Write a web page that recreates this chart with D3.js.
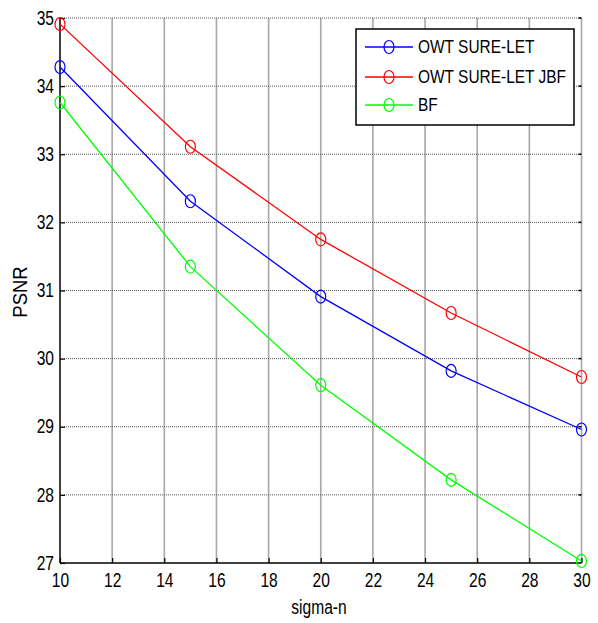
<!DOCTYPE html>
<html>
<head>
<meta charset="utf-8">
<script src="https://cdn.jsdelivr.net/npm/d3@7/dist/d3.min.js"></script>
<style>
  html, body { margin: 0; padding: 0; background: #fff; }
  svg text { font-family: "Liberation Sans", Arial, sans-serif; fill: #000; }
</style>
</head>
<body>
<svg id="chart" width="598" height="623"></svg>
<script>
const sigma = [10, 15, 20, 25, 30];
const owtSureLet = [34.28, 32.31, 30.91, 29.82, 28.96];
const owtSureLetJbf = [34.91, 33.11, 31.75, 30.67, 29.73];
const bf = [33.76, 31.35, 29.61, 28.22, 27.03];
const xTicks = [10, 12, 14, 16, 18, 20, 22, 24, 26, 28, 30];
const yTicks = [27, 28, 29, 30, 31, 32, 33, 34, 35];
const seriesNames = ["OWT SURE-LET", "OWT SURE-LET JBF", "BF"];
const seriesColors = ["#0000ff", "#ff0000", "#00ff00"];

const series = [owtSureLet, owtSureLetJbf, bf].map((vals, i) => ({
  name: seriesNames[i], color: seriesColors[i],
  points: sigma.map((s, j) => ({ x: s, y: vals[j] }))
}));

const svg = d3.select("#chart");
const L = 60, R = 581.5, T = 18, B = 563;
const x = d3.scaleLinear().domain([10, 30]).range([L, R]);
const y = d3.scaleLinear().domain([27, 35]).range([B, T]);
const TS = 0.8; // horizontal condensation of the text

// grid
const g = svg.append("g");
g.selectAll(".vg").data(xTicks.slice(1)).enter().append("line")
  .attr("x1", d => x(d)).attr("x2", d => x(d)).attr("y1", T).attr("y2", B)
  .attr("stroke", "#a8a8a8").attr("stroke-width", 1.6);
g.selectAll(".hg").data(yTicks.slice(1)).enter().append("line")
  .attr("x1", L).attr("x2", R).attr("y1", d => y(d)).attr("y2", d => y(d))
  .attr("stroke", "#555").attr("stroke-width", 1).attr("stroke-dasharray", "1,1");

// axes
const yAxis = d3.axisLeft(y).tickValues(yTicks).tickSize(-5).tickPadding(6).tickFormat(d3.format("d"));
const xAxis = d3.axisBottom(x).tickValues(xTicks).tickSize(-5).tickPadding(9).tickFormat(d3.format("d"));
const ya = svg.append("g").attr("transform", `translate(${L},0)`).call(yAxis);
const xa = svg.append("g").attr("transform", `translate(0,${B})`).call(xAxis);
[ya, xa].forEach(a => {
  a.select(".domain").attr("stroke", "#000").attr("stroke-width", 1.5);
  a.selectAll(".tick line").attr("stroke", "#000").attr("stroke-width", 1.2);
  a.selectAll(".tick text").attr("font-size", 19.5);
});
ya.select(".domain").attr("d", `M0,${T}V${B}`);
xa.select(".domain").attr("d", `M${L},0H${R}`);
xa.selectAll(".tick text").attr("dy", "0.75em");
// condense tick labels horizontally about their anchor
ya.selectAll(".tick text").attr("transform", function () {
  const tx = +d3.select(this).attr("x");
  return `translate(${tx},0) scale(${TS},1) translate(${-tx},0)`;
});
xa.selectAll(".tick text").attr("transform", `scale(${TS},1)`);
// right-side tick marks
svg.append("g").selectAll("line").data(yTicks.slice(1)).enter().append("line")
  .attr("x1", R - 3).attr("x2", R).attr("y1", d => y(d)).attr("y2", d => y(d))
  .attr("stroke", "#000").attr("stroke-width", 1.5);

// axis labels
svg.append("text").attr("transform", `translate(319,614) scale(${TS},1)`).attr("text-anchor", "middle")
  .attr("font-size", 19.5).text("sigma-n");
svg.append("text").attr("transform", `translate(27,292) rotate(-90) scale(0.95,1)`).attr("text-anchor", "middle")
  .attr("font-size", 19.5).text("PSNR");

// lines
const line = d3.line().x(d => x(d.x)).y(d => y(d.y));
series.forEach(s => {
  svg.append("path").datum(s.points).attr("d", line)
    .attr("fill", "none").attr("stroke", s.color).attr("stroke-width", 1.3);
  svg.append("g").selectAll("ellipse").data(s.points).enter().append("ellipse")
    .attr("cx", d => x(d.x)).attr("cy", d => y(d.y)).attr("rx", 5).attr("ry", 6.5)
    .attr("fill", "none").attr("stroke", s.color).attr("stroke-width", 1.2);
});

// legend
const lg = svg.append("g");
lg.append("rect").attr("x", 356).attr("y", 29).attr("width", 218).attr("height", 96)
  .attr("fill", "#fff").attr("stroke", "#000").attr("stroke-width", 1.5);
const rowY = [47, 77, 105];
series.forEach((s, i) => {
  lg.append("line").attr("x1", 365).attr("x2", 413).attr("y1", rowY[i]).attr("y2", rowY[i])
    .attr("stroke", s.color).attr("stroke-width", 1.3);
  lg.append("ellipse").attr("cx", 389).attr("cy", rowY[i]).attr("rx", 5).attr("ry", 6.5)
    .attr("fill", "none").attr("stroke", s.color).attr("stroke-width", 1.2);
  lg.append("text").attr("transform", `translate(418,${rowY[i]}) scale(0.86,1)`).attr("dy", "0.36em")
    .attr("font-size", 18).text(s.name);
});
</script>
</body>
</html>
